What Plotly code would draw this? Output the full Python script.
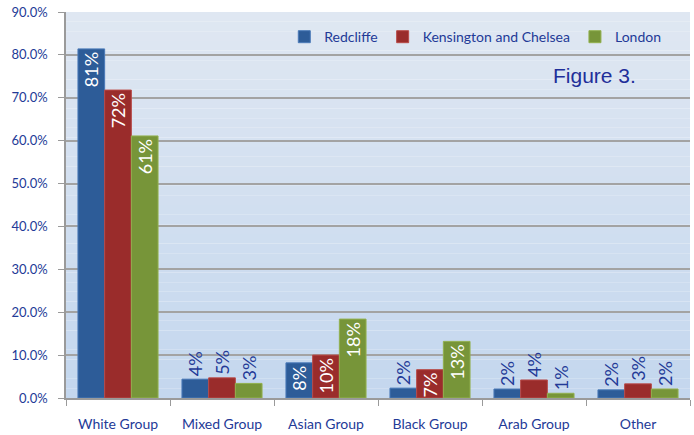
import plotly.graph_objects as go

categories = ["White Group", "Mixed Group", "Asian Group", "Black Group", "Arab Group", "Other"]
series_names = ["Redcliffe", "Kensington and Chelsea", "London"]
redcliffe = [0.814, 0.044, 0.082, 0.023, 0.021, 0.019]
kensington = [0.718, 0.047, 0.100, 0.066, 0.042, 0.033]
london = [0.611, 0.034, 0.184, 0.132, 0.011, 0.021]
y_ticks = [0, 0.1, 0.2, 0.3, 0.4, 0.5, 0.6, 0.7, 0.8, 0.9]

colors = ["#2d5c98", "#9a2c2b", "#779539"]
edge = ["#4a7ab8", "#b84a48", "#92b04e"]
FONT = "Lato, Carlito, 'DejaVu Sans', sans-serif"
TXT = "#233a97"

fig = go.Figure()

# background gradient for plot area
top = (223, 231, 242)
bot = (196, 215, 238)
n = 40
for i in range(n):
    t = i / (n - 1)
    c = tuple(int(round(bot[k] + (top[k] - bot[k]) * t)) for k in range(3))
    fig.add_shape(type="rect", xref="paper", yref="paper", x0=0, x1=1,
                  y0=i / n, y1=(i + 1) / n, fillcolor="rgb(%d,%d,%d)" % c,
                  line_width=0, layer="below")

for name, vals, col, ec in zip(series_names, [redcliffe, kensington, london], colors, edge):
    pos = ["inside" if v > 0.06 else "outside" for v in vals]
    fig.add_trace(go.Bar(
        x=categories, y=vals, name=name,
        marker=dict(color=col, line=dict(color=ec, width=1)),
        texttemplate="%{y:.0%}", textposition=pos, textangle=-90,
        insidetextanchor="end", cliponaxis=False, constraintext="none",
        insidetextfont=dict(color="white", size=18, family=FONT),
        outsidetextfont=dict(color=TXT, size=18, family=FONT),
    ))

fig.add_annotation(text="Figure 3.", xref="paper", yref="paper", x=0.917, y=0.835,
                   xanchor="right", yanchor="middle", showarrow=False,
                   font=dict(family="'Liberation Sans', Arial, sans-serif", size=21, color="#1f2f9a"))

fig.update_layout(
    width=694, height=435,
    margin=dict(l=66, r=4, t=12, b=37),
    paper_bgcolor="white", plot_bgcolor="rgba(0,0,0,0)",
    barmode="group", bargap=0.23, bargroupgap=0,
    font=dict(family=FONT, color=TXT),
    showlegend=True,
    legend=dict(orientation="h", x=0.962, xanchor="right", y=0.935, yanchor="middle",
                bgcolor="rgba(0,0,0,0)", font=dict(size=14, color=TXT, family=FONT),
                itemwidth=30, traceorder="normal"),
    xaxis=dict(showgrid=False, showline=True, linecolor="#9a9a9a", linewidth=1.5,
               ticks="outside", tickson="boundaries", ticklen=6, tickcolor="#9a9a9a",
               tickfont=dict(size=14, color=TXT, family=FONT), ticklabelstandoff=12,
               automargin=False),
    yaxis=dict(range=[0, 0.9], tickvals=y_ticks, tickformat=".1%",
               showgrid=True, gridcolor="#a3a3a3", gridwidth=1.5,
               showline=True, linecolor="#9a9a9a", linewidth=1.5,
               ticks="outside", ticklen=6, tickcolor="#9a9a9a", ticklabelstandoff=8,
               tickfont=dict(size=13, color=TXT, family=FONT), zeroline=False,
               automargin=False),
)

fig.write_html("out.html", config={"displayModeBar": False},
               post_script="document.body.style.margin='0';document.body.style.overflow='hidden';")
